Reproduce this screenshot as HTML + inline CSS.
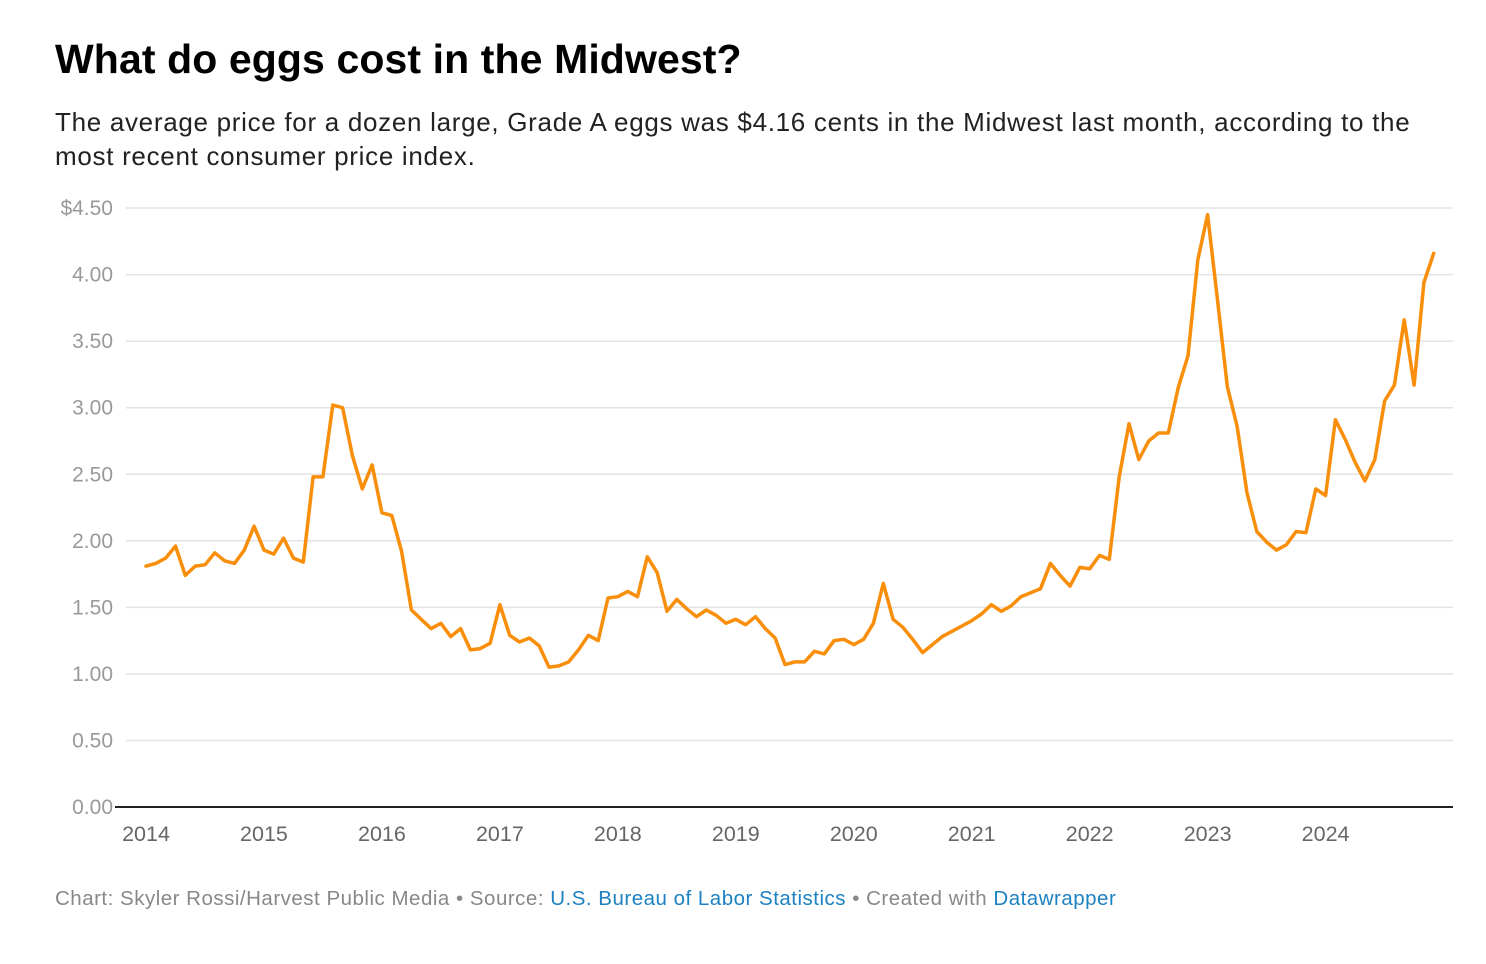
<!DOCTYPE html>
<html><head><meta charset="utf-8"><style>
body{margin:0;background:#fff;width:1486px;height:964px;overflow:hidden;font-family:"Liberation Sans",sans-serif}
#title{position:absolute;left:55px;top:36px;font-size:41px;font-weight:bold;color:#000;margin:0;letter-spacing:0.1px}
#sub{position:absolute;left:55px;top:105px;width:1385px;font-size:26px;line-height:34px;color:#222;margin:0;letter-spacing:0.7px}
#foot{position:absolute;left:55px;top:887px;font-size:20.5px;color:#888;letter-spacing:0.5px}
#foot a{color:#1d81c2;text-decoration:none}
svg{position:absolute;left:0;top:0}
</style></head><body>
<h1 id="title">What do eggs cost in the Midwest?</h1>
<p id="sub">The average price for a dozen large, Grade A eggs was $4.16 cents in the Midwest last month, according to the most recent consumer price index.</p>
<svg id="chart" width="1486" height="964"></svg>
<div id="foot">Chart: Skyler Rossi/Harvest Public Media • Source: <a>U.S. Bureau of Labor Statistics</a> • Created with <a>Datawrapper</a></div>
<script>
const startYear = 2014;
const yearLabels = ["2014","2015","2016","2017","2018","2019","2020","2021","2022","2023","2024"];
const yTicks = [0,0.5,1,1.5,2,2.5,3,3.5,4,4.5];
const yTickLabels = ["0.00","0.50","1.00","1.50","2.00","2.50","3.00","3.50","4.00","$4.50"];
const prices = [
1.81,1.83,1.87,1.96,1.74,1.81,1.82,1.91,1.85,1.83,1.93,2.11,
1.93,1.90,2.02,1.87,1.84,2.48,2.48,3.02,3.00,2.64,2.39,2.57,
2.21,2.19,1.92,1.48,1.41,1.34,1.38,1.28,1.34,1.18,1.19,1.23,
1.52,1.29,1.24,1.27,1.21,1.05,1.06,1.09,1.18,1.29,1.25,1.57,
1.58,1.62,1.58,1.88,1.76,1.47,1.56,1.49,1.43,1.48,1.44,1.38,
1.41,1.37,1.43,1.34,1.27,1.07,1.09,1.09,1.17,1.15,1.25,1.26,
1.22,1.26,1.38,1.68,1.41,1.35,1.26,1.16,1.22,1.28,1.32,1.36,
1.40,1.45,1.52,1.47,1.51,1.58,1.61,1.64,1.83,1.74,1.66,1.80,
1.79,1.89,1.86,2.48,2.88,2.61,2.75,2.81,2.81,3.15,3.39,4.11,
4.45,3.81,3.16,2.86,2.36,2.07,1.99,1.93,1.97,2.07,2.06,2.39,
2.34,2.91,2.76,2.59,2.45,2.61,3.05,3.17,3.66,3.17,3.94,4.16];
const svg=document.getElementById('chart');
const NS='http://www.w3.org/2000/svg';
const x0=146, monthW=9.83, yBase=807, yPer=133.1;
const xScale=m=>x0+m*monthW;
const yScale=v=>yBase-v*yPer;
function mk(tag,attrs){const e=document.createElementNS(NS,tag);for(const k in attrs)e.setAttribute(k,attrs[k]);svg.appendChild(e);return e;}
yTicks.forEach((v,i)=>{
  if(v>0){const g=mk('line',{x1:126,x2:1453,y1:yScale(v),y2:yScale(v),stroke:'#e3e3e3','stroke-width':1.5});
  
  }
  const t=mk('text',{x:113,y:yScale(v)+7,'text-anchor':'end','font-size':21,fill:'#999','font-family':'Liberation Sans, sans-serif'});
  t.textContent=yTickLabels[i];
  
  
});
const ax=mk('line',{x1:115,x2:1453,y1:yBase,y2:yBase,stroke:'#222','stroke-width':2});


yearLabels.forEach((lab,i)=>{
  const t=mk('text',{x:xScale(i*12),y:841,'text-anchor':'middle','font-size':21.5,fill:'#666','font-family':'Liberation Sans, sans-serif'});
  t.textContent=lab;
  
  
});
const d=prices.map((v,i)=>(i?'L':'M')+xScale(i).toFixed(1)+','+yScale(v).toFixed(1)).join('');
const p=mk('path',{d:d,fill:'none',stroke:'#f98e0b','stroke-width':3.5,'stroke-linejoin':'round','stroke-linecap':'round'});


</script>
</body></html>
